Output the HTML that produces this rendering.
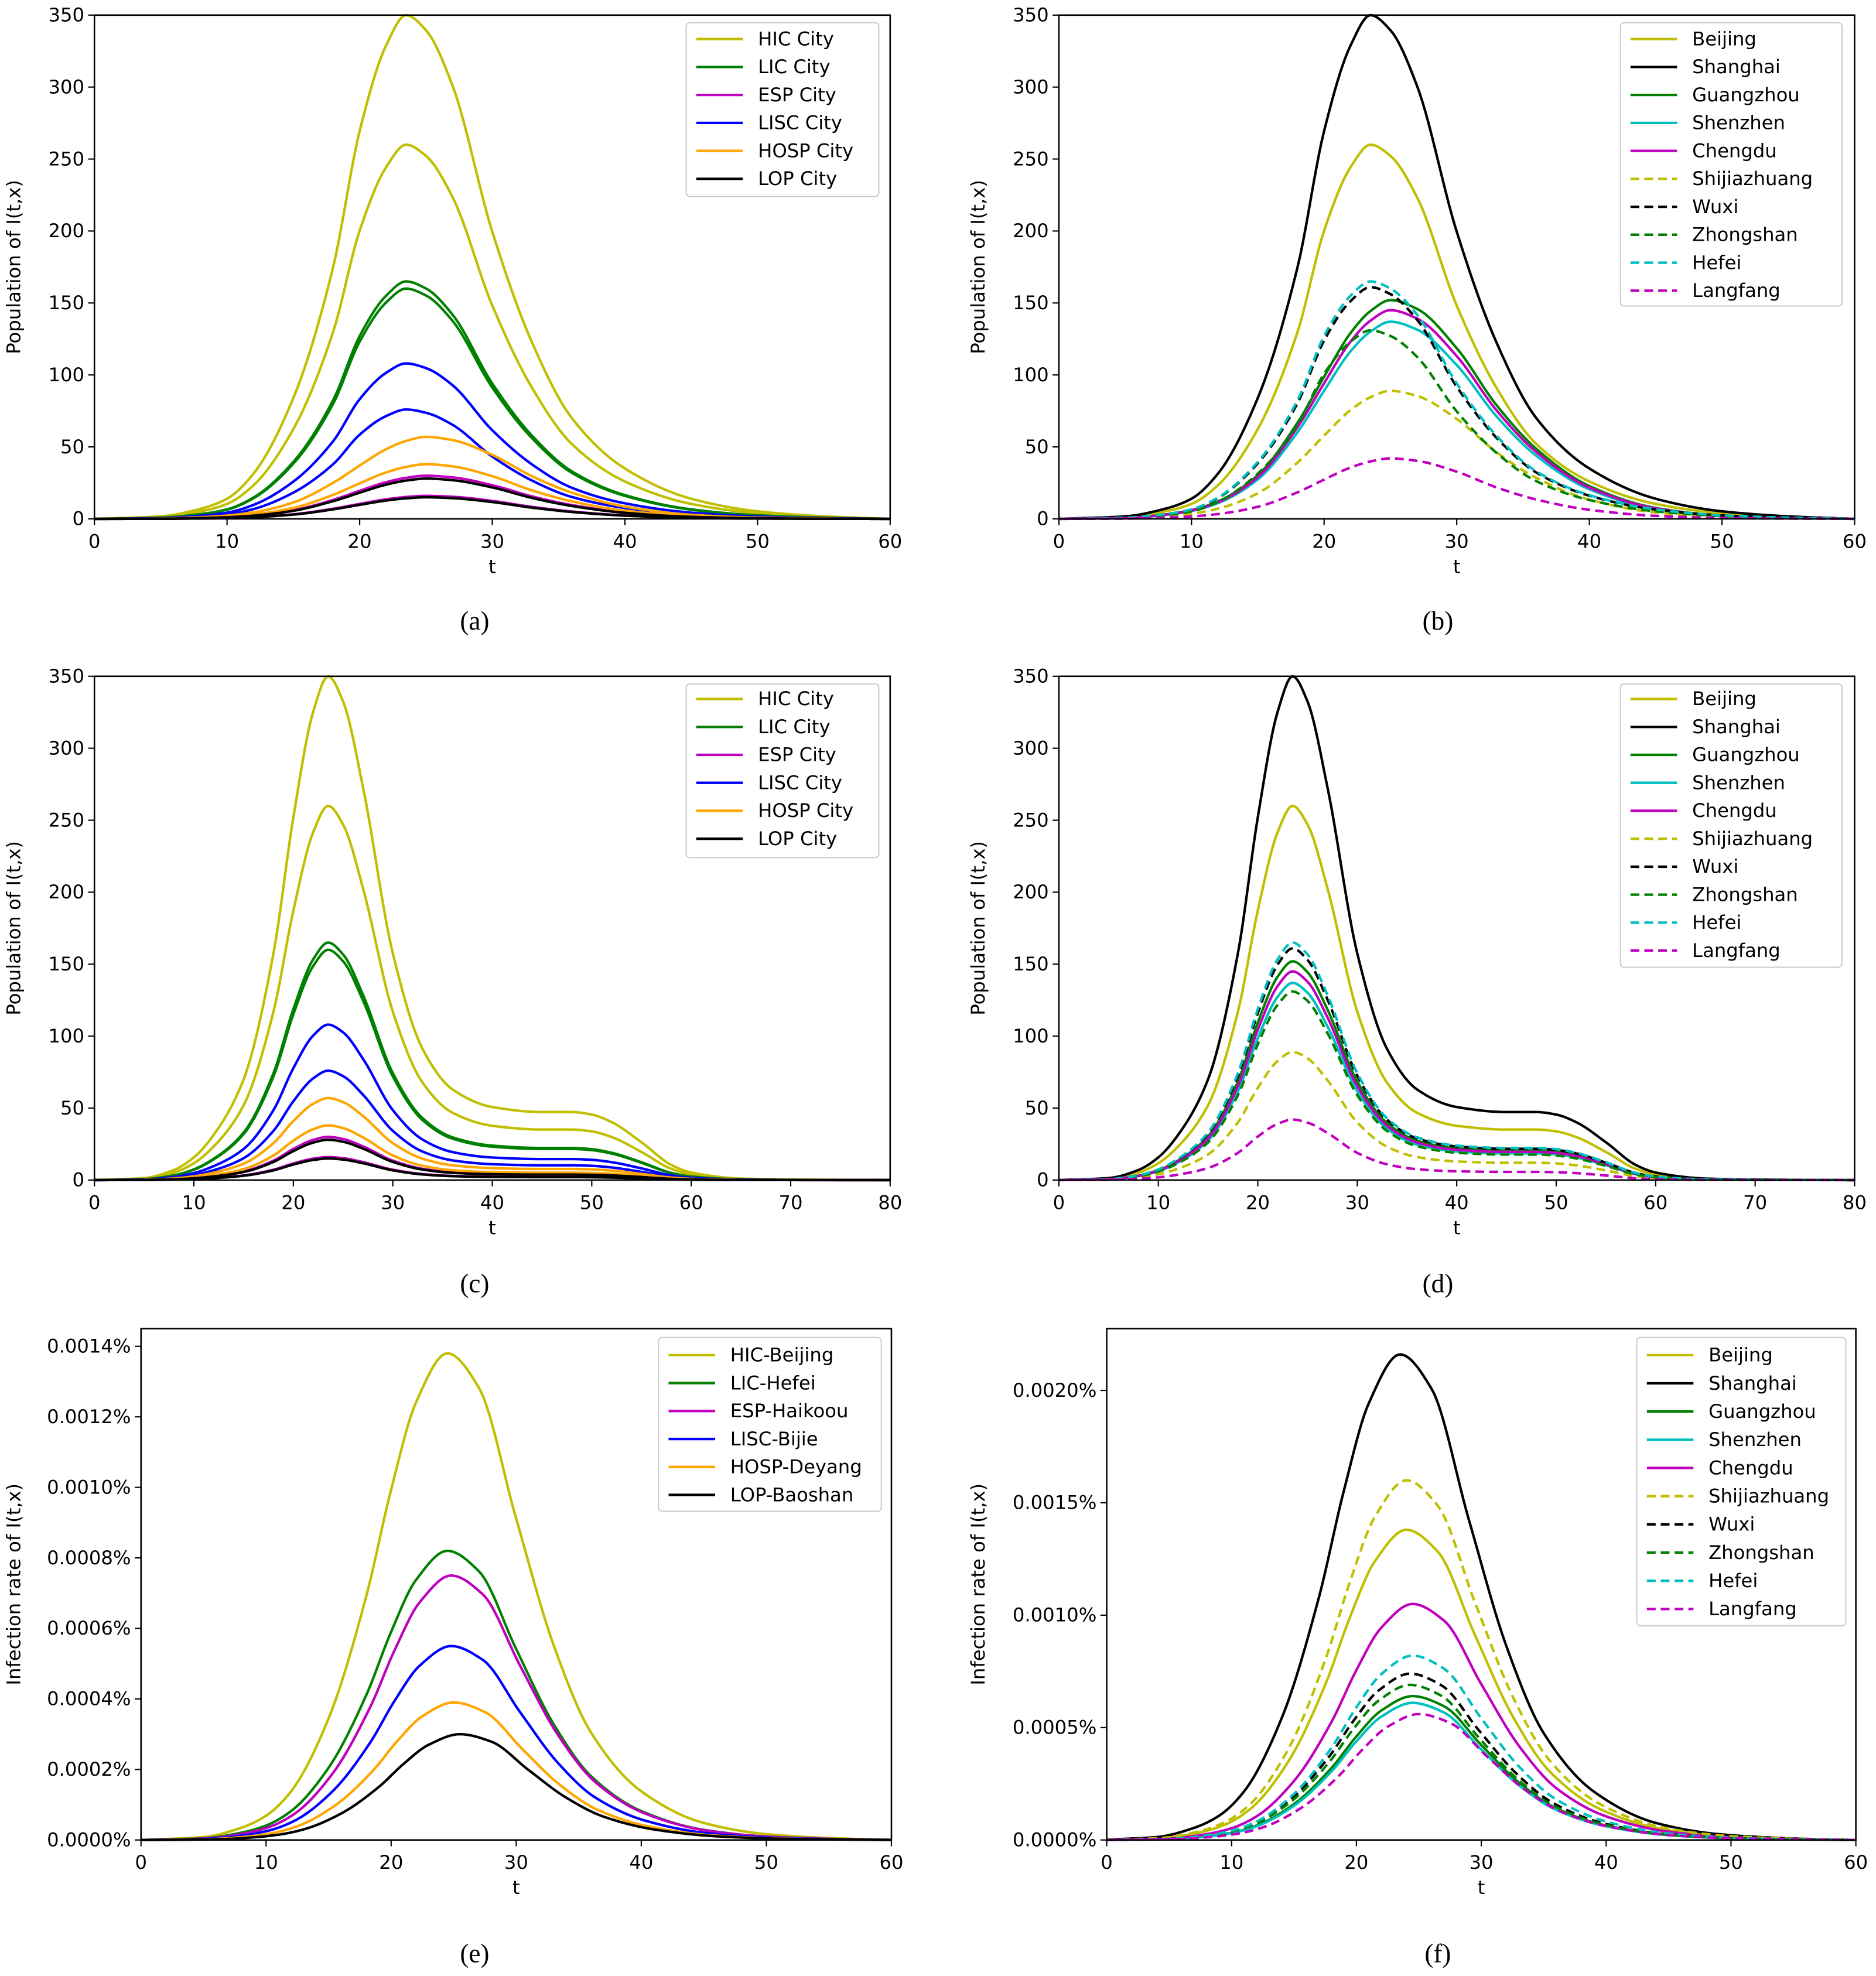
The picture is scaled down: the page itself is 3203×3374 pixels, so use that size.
<!DOCTYPE html>
<html><head><meta charset="utf-8"><style>
html,body{margin:0;padding:0;background:#fff}
svg{display:block}
text{font-family:"DejaVu Sans","Liberation Sans",sans-serif;fill:#000}
.cap{font-family:"Liberation Serif",serif;font-size:21px}
</style></head><body>
<svg id="fig" width="3203" height="3374" viewBox="0 0 1490 1569" preserveAspectRatio="none" xmlns="http://www.w3.org/2000/svg">
<text class="cap" x="377" y="500" text-anchor="middle">(a)</text>
<text class="cap" x="1142" y="500" text-anchor="middle">(b)</text>
<text class="cap" x="377" y="1026" text-anchor="middle">(c)</text>
<text class="cap" x="1142" y="1026" text-anchor="middle">(d)</text>
<text class="cap" x="377" y="1558" text-anchor="middle">(e)</text>
<text class="cap" x="1142" y="1558" text-anchor="middle">(f)</text>
</svg>
<script>
// shape profiles (normalized to peak = 1)
const gridA = [0,5,8,10,12,15,18,20,22,23.5,25,27,30,33,36,40,45,50,55,60];
const profA = [0,0.005,0.02,0.04,0.09,0.24,0.5,0.77,0.94,1.0,0.97,0.86,0.57,0.35,0.2,0.1,0.04,0.015,0.005,0];
const gridB = [0,5,8,10,12,15,18,20,22,23.5,25,27,30,33,36,40,45,50,55,60];
const profB = [0,0.004,0.02,0.04,0.08,0.2,0.44,0.65,0.85,0.95,1.0,0.96,0.78,0.52,0.32,0.15,0.05,0.015,0.005,0];
const gridC = [0,5,8,10,12,15,18,20,22,23.5,25,27,30,33,36,40,45,48,50,52,55,58,60,65,70,80];
const profC = [0,0.004,0.02,0.045,0.09,0.2,0.45,0.72,0.93,1.0,0.95,0.78,0.45,0.26,0.18,0.145,0.135,0.135,0.13,0.115,0.075,0.03,0.015,0.003,0.001,0];
const gridE = [0,5,8,10,12,15,18,20,22,24.5,27,30,33,36,40,45,50,55,60];
const profE = [0,0.006,0.025,0.05,0.1,0.25,0.5,0.72,0.9,1.0,0.93,0.66,0.4,0.22,0.1,0.035,0.012,0.004,0];

// panel (a)/(c) series
const namesAC = ["HIC City","LIC City","ESP City","LISC City","HOSP City","LOP City"];
const colorsAC = ["#bfbf00","#008000","#bf00bf","#0000ff","#ffa500","#000000"];
const peaksAC1 = [350,165,30,108,57,28];
const peaksAC2 = [260,160,16,76,38,15];
const profAC = ["A","A","B","A","B","B"];
// panel (b)/(d) series
const namesBD = ["Beijing","Shanghai","Guangzhou","Shenzhen","Chengdu","Shijiazhuang","Wuxi","Zhongshan","Hefei","Langfang"];
const colorsBD = ["#bfbf00","#000000","#008000","#00bfbf","#bf00bf","#bfbf00","#000000","#008000","#00bfbf","#bf00bf"];
const dashedBD = [0,0,0,0,0,1,1,1,1,1];
const peaksBD = [260,350,152,137,145,89,161,131,165,42];
const profBD = ["A","A","B","B","B","B","A","A","A","B"];
// panel (e)
const namesE = ["HIC-Beijing","LIC-Hefei","ESP-Haikoou","LISC-Bijie","HOSP-Deyang","LOP-Baoshan"];
const colorsE = ["#bfbf00","#008000","#bf00bf","#0000ff","#ffa500","#000000"];
const peaksE = [0.00138,0.00082,0.00075,0.00055,0.00039,0.00030];
const peakTE = [24.5,24.5,24.8,24.8,25,25.5];
// panel (f)
const peaksF = [0.00138,0.00216,0.00064,0.00061,0.00105,0.0016,0.00074,0.00069,0.00082,0.00056];
const peakTF = [24,23.5,24.5,24.5,24.5,24,24.3,24.3,24.5,25];
const yTicksE = ["0.0000%","0.0002%","0.0004%","0.0006%","0.0008%","0.0010%","0.0012%","0.0014%"];
const yTicksF = ["0.0000%","0.0005%","0.0010%","0.0015%","0.0020%"];

const svg=document.getElementById('fig');
const NS="http://www.w3.org/2000/svg";
function mk(tag,attrs,parent){const e=document.createElementNS(NS,tag);for(const k in attrs)e.setAttribute(k,attrs[k]);(parent||svg).appendChild(e);return e;}
// monotone cubic (Fritsch-Carlson) interpolation
function slopes(x,y){
  const n=x.length,d=[],m=new Array(n);
  for(let i=0;i<n-1;i++)d.push((y[i+1]-y[i])/(x[i+1]-x[i]));
  m[0]=d[0];m[n-1]=d[n-2];
  for(let i=1;i<n-1;i++){
    if(d[i-1]*d[i]<=0)m[i]=0;
    else{const h0=x[i]-x[i-1],h1=x[i+1]-x[i];const w1=2*h1+h0,w2=h1+2*h0;m[i]=(w1+w2)/(w1/d[i-1]+w2/d[i]);}
  }
  return m;
}
const slopeCache=new Map();
function interp(grid,prof,t){
  if(t<=grid[0])return prof[0]; if(t>=grid[grid.length-1])return prof[prof.length-1];
  if(!slopeCache.has(prof))slopeCache.set(prof,slopes(grid,prof));
  const m=slopeCache.get(prof);
  let i=0;while(grid[i+1]<t)i++;
  const h=grid[i+1]-grid[i],u=(t-grid[i])/h;
  const h00=2*u*u*u-3*u*u+1,h10=u*u*u-2*u*u+u,h01=-2*u*u*u+3*u*u,h11=u*u*u-u*u;
  return Math.max(h00*prof[i]+h10*h*m[i]+h01*prof[i+1]+h11*h*m[i+1],0);
}
function panel(o){
  const g=mk('g',{});
  
  
  const X=v=>o.x0+(v-o.xmin)/(o.xmax-o.xmin)*(o.x1-o.x0);
  const Y=v=>o.y0-(v/o.ymax)*(o.y0-o.y1);
  o.series.forEach(s=>{
    let d="";
    for(let t=o.xmin;t<=o.xmax+1e-9;t+=0.2){d+=(d?"L":"M")+X(t).toFixed(2)+","+Y(s.f(t)).toFixed(2);}
    const p=mk('path',{d:d,fill:"none",stroke:s.c,"stroke-width":2,"stroke-dasharray":s.dash?"7,4":"none"},g);
    
    
  });
  const fr=mk('rect',{x:o.x0,y:o.yt,width:o.x1-o.x0,height:o.y0-o.yt,fill:"none",stroke:"#000","stroke-width":1.2},g);
  
  
  for(let v=o.xmin;v<=o.xmax;v+=10){
    mk('line',{x1:X(v),x2:X(v),y1:o.y0,y2:o.y0+5,stroke:"#000"},g);
    const t=mk('text',{x:X(v),y:o.y0+23,"font-size":15,"text-anchor":"middle"},g);t.textContent=v;
    
    
  }
  o.yt_labels.forEach((lab,i)=>{
    const v=i*o.ystep;
    mk('line',{x1:o.x0-5,x2:o.x0,y1:Y(v),y2:Y(v),stroke:"#000"},g);
    const t=mk('text',{x:o.x0-8,y:Y(v)+5,"font-size":15,"text-anchor":"end"},g);t.textContent=lab;
    
    
  });
  const xl=mk('text',{x:(o.x0+o.x1)/2,y:o.y0+43,"font-size":15,"text-anchor":"middle"},g);xl.textContent="t";
  
  
  const yc=(o.y0+o.yt)/2;
  const yl=mk('text',{x:o.ylx,y:yc,"font-size":15,"text-anchor":"middle",transform:`rotate(-90 ${o.ylx} ${yc})`},g);yl.textContent=o.ylabel;
  
  
  const L=o.leg;
  const lg=mk('g',{},g);
  
  
  mk('rect',{x:L.x,y:L.y,width:L.w,height:L.h,rx:3,fill:"#fff","fill-opacity":0.85,stroke:"#ccc"},lg);
  L.items.forEach((it,i)=>{
    const yy=L.y0+i*L.dy;
    mk('line',{x1:L.x+8,x2:L.x+45,y1:yy,y2:yy,stroke:it.c,"stroke-width":2,"stroke-dasharray":it.dash?"7,4":"none"},lg);
    const t=mk('text',{x:L.x+57,y:yy+5,"font-size":15},lg);t.textContent=it.n;
    
    
  });
}
const prof={A:[gridA,profA],B:[gridB,profB],C:[gridC,profC]};
function ser(id,c,dash,peak,p){return {id,c,dash,f:t=>peak*interp(p[0],p[1],t)};}
function serE(id,c,dash,peak,tp){const sh=tp-24.5;return {id,c,dash,f:t=>peak*interp(gridE,profE,t-sh)};}
const popTicks=["0","50","100","150","200","250","300","350"];
let s=[];namesAC.forEach((n,i)=>{s.push(ser('line-'+i+'-1',colorsAC[i],0,peaksAC1[i],prof[profAC[i]]));s.push(ser('line-'+i+'-2',colorsAC[i],0,peaksAC2[i],prof[profAC[i]]));});
const legAC=namesAC.map((n,i)=>({n,c:colorsAC[i]}));
panel({name:'panel-a',x0:75,x1:707,y0:412,y1:12,yt:12,xmin:0,xmax:60,ymax:350,ystep:50,yt_labels:popTicks,series:s,ylabel:"Population of I(t,x)",ylx:16,
  leg:{x:545,y:18,w:153,h:138,y0:31,dy:22.2,items:legAC}});
s=namesBD.map((n,i)=>ser('line-'+n.toLowerCase(),colorsBD[i],dashedBD[i],peaksBD[i],prof[profBD[i]]));
const legBD=namesBD.map((n,i)=>({n,c:colorsBD[i],dash:dashedBD[i]}));
panel({name:'panel-b',x0:841,x1:1473,y0:412,y1:12,yt:12,xmin:0,xmax:60,ymax:350,ystep:50,yt_labels:popTicks,series:s,ylabel:"Population of I(t,x)",ylx:782,
  leg:{x:1287,y:18,w:176,h:225,y0:31,dy:22.2,items:legBD}});
s=[];namesAC.forEach((n,i)=>{s.push(ser('line-'+i+'-1',colorsAC[i],0,peaksAC1[i],prof.C));s.push(ser('line-'+i+'-2',colorsAC[i],0,peaksAC2[i],prof.C));});
panel({name:'panel-c',x0:75,x1:707,y0:937,y1:537,yt:537,xmin:0,xmax:80,ymax:350,ystep:50,yt_labels:popTicks,series:s,ylabel:"Population of I(t,x)",ylx:16,
  leg:{x:545,y:543,w:153,h:138,y0:555,dy:22.2,items:legAC}});
s=namesBD.map((n,i)=>ser('line-'+n.toLowerCase(),colorsBD[i],dashedBD[i],peaksBD[i],prof.C));
panel({name:'panel-d',x0:841,x1:1473,y0:937,y1:537,yt:537,xmin:0,xmax:80,ymax:350,ystep:50,yt_labels:popTicks,series:s,ylabel:"Population of I(t,x)",ylx:782,
  leg:{x:1287,y:543,w:176,h:225,y0:555,dy:22.2,items:legBD}});
s=namesE.map((n,i)=>serE('line-'+n.toLowerCase(),colorsE[i],0,peaksE[i],peakTE[i]));
panel({name:'panel-e',x0:112,x1:708,y0:1461,y1:1069,yt:1055,xmin:0,xmax:60,ymax:0.0014,ystep:0.0002,yt_labels:yTicksE,series:s,ylabel:"Infection rate of I(t,x)",ylx:16,
  leg:{x:523,y:1062,w:177,h:138,y0:1076,dy:22.2,items:namesE.map((n,i)=>({n,c:colorsE[i]}))}});
s=namesBD.map((n,i)=>serE('line-'+n.toLowerCase(),colorsBD[i],dashedBD[i],peaksF[i],peakTF[i]));
panel({name:'panel-f',x0:879,x1:1474,y0:1461,y1:1104,yt:1055,xmin:0,xmax:60,ymax:0.002,ystep:0.0005,yt_labels:yTicksF,series:s,ylabel:"Infection rate of I(t,x)",ylx:782,
  leg:{x:1300,y:1062,w:166,h:229,y0:1076,dy:22.4,items:legBD}});
</script>
</body></html>
